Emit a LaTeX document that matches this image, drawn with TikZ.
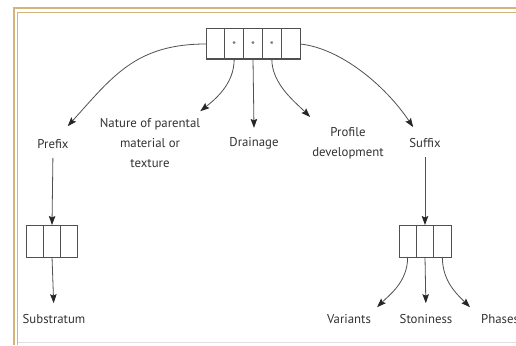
\documentclass[tikz,border=0pt]{standalone}
\usepackage{fontspec}
\setmainfont{PT Sans}
\usetikzlibrary{arrows.meta, positioning, calc}
\definecolor{frametan}{RGB}{212,180,122}
\definecolor{inkgray}{RGB}{80,80,80}
\definecolor{textgray}{RGB}{50,50,50}
\begin{document}
\begin{tikzpicture} [x=1pt, y=-1pt,
                cell/.style={draw=inkgray, rectangle, line width=1pt, minimum width=18.8pt, minimum height=30pt, inner sep=0pt, outer sep=0pt},
                smallcell/.style={cell, minimum width=17.33pt, minimum height=32pt},
                lbl/.style={text=textgray, font=\fontsize{12.8}{20}\selectfont, align=center, inner sep=2pt},
                star/.style={text=inkgray, font=\fontsize{11}{11}\selectfont, inner sep=0pt},
                arrow/.style={-{Stealth[length=9pt, width=6.5pt, inset=1.5pt, color=black!85]}, draw=inkgray, line width=0.8pt}
            ]
            \useasboundingbox (0,0) rectangle (516,345);
            \clip (0,0) rectangle (516,345);

            % Frame
            \draw[frametan, line width=2pt] (14,345) -- (14,8) -- (516,8);
            \draw[frametan, line width=1pt] (17.5,345) -- (17.5,12.5) -- (516,12.5);
            \draw[black!12, line width=0.6pt] (17.5,342.5) -- (516,342.5);

            % Top symbol
            \begin{scope}
                \node[cell] (sym1) at (215.4,44) {};
                \node[cell] (sym2) at (234.2,44) {};
                \node[cell] (sym3) at (253,44) {};
                \node[cell] (sym4) at (271.8,44) {};
                \node[cell] (sym5) at (290.6,44) {};
                \node[star] at ([yshift=-1.5]sym2) {*};
                \node[star] at ([yshift=-1.5]sym3) {*};
                \node[star] at ([yshift=-1.5]sym4) {*};
            \end{scope}

            % Labels of the first level
            \node[lbl] (prefix) at (53,144) {Prefix};
            \node[lbl] (nature) at (150,143) {Nature of parental\\material or\\texture};
            \node[lbl] (drainage) at (254,143) {Drainage};
            \node[lbl] (profile) at (348,143) {Profile\\development};
            \node[lbl] (suffix) at (425,143) {Suffix};

            % Prefix symbol
            \begin{scope}
                \node[smallcell] (preCell1) at (34.67,241) {};
                \node[smallcell] (preCell2) at (52,241) {};
                \node[smallcell] (preCell3) at (69.33,241) {};
            \end{scope}

            % Suffix symbol
            \begin{scope}
                \node[smallcell] (sufCell1) at (407.67,241) {};
                \node[smallcell] (sufCell2) at (425,241) {};
                \node[smallcell] (sufCell3) at (442.33,241) {};
            \end{scope}

            % Labels of the second level
            \node[lbl] (substratum) at (54,319) {Substratum};
            \node[lbl] (variants) at (349,319) {Variants};
            \node[lbl] (stoniness) at (426,319) {Stoniness};
            \node[lbl, anchor=west] (phases) at (479,319) {Phases};

            % Connections
            \draw[arrow] (sym1.west) .. controls +(-70,0) and +(45,-50) .. ([shift={(-3,-11)}]prefix.north east);
            \draw[arrow] (sym2.south) .. controls +(0,25) and +(15,-12) .. ([shift={(-2,-5)}]nature.north east);
            \draw[arrow] (sym3.south) -- ([yshift=7]drainage.north);
            \draw[arrow] (sym4.south) .. controls +(0,25) and +(-15,-15) .. ([shift={(0,-8)}]profile.north west);
            \draw[arrow] (sym5.east) .. controls +(40,4) and +(-28,-42) .. ([shift={(6,-9)}]suffix.north west);

            \draw[arrow, shorten <=7pt] (prefix.south) -- (preCell2.north);
            \draw[arrow, shorten <=7pt] (suffix.south) -- (sufCell2.north);

            \draw[arrow, shorten >=9pt] (preCell2.south) -- (substratum.north);
            \draw[arrow] (sufCell1.south) .. controls +(0,25) and +(12,-12) .. ([shift={(4,-5)}]variants.north east);
            \draw[arrow, shorten >=9pt] (sufCell2.south) -- (stoniness.north);
            \draw[arrow] (sufCell3.south) .. controls +(0,25) and +(-12,-12) .. ([shift={(-9,-5)}]phases.north west);
        \end{tikzpicture}
\end{document}
